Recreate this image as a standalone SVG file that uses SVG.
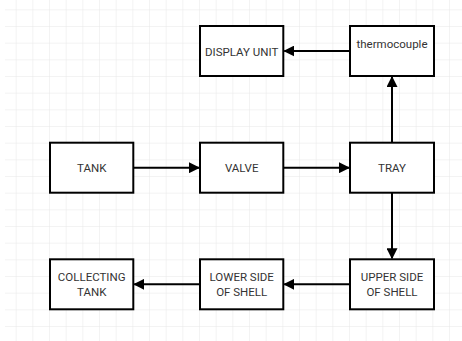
<svg xmlns="http://www.w3.org/2000/svg" width="462" height="341" viewBox="0 0 462 341">
<defs>
<pattern id="grid" x="0" y="9.333" width="16.667" height="16.667" patternUnits="userSpaceOnUse">
<path d="M16.667 0V16.667M0 0H16.667" fill="none" stroke="#e8e8e8" stroke-width="1"/>
</pattern>
<marker id="arr" markerWidth="11" markerHeight="11" refX="10" refY="5.5" orient="auto" markerUnits="userSpaceOnUse">
<path d="M0 0L11 5.5L0 11Z" fill="#000"/>
</marker>
<style>
.box{fill:#fff;stroke:#000;stroke-width:2}
.lbl{font-family:Roboto,"Liberation Sans",sans-serif;font-size:11.5px;fill:#333;text-anchor:middle}
.edge{fill:none;stroke:#000;stroke-width:2;marker-end:url(#arr)}
</style>
</defs>
<rect width="462" height="341" fill="#fff"/>
<rect x="5" y="0" width="457" height="341" fill="url(#grid)"/>
<g id="connectors">
<path class="edge" d="M133.3 167.7H199"/>
<path class="edge" d="M283.3 167.7H349"/>
<path class="edge" d="M392 142.7V77"/>
<path class="edge" d="M350 51H284.3"/>
<path class="edge" d="M392 192.7V258.3"/>
<path class="edge" d="M350 284.3H284.3"/>
<path class="edge" d="M200 284.3H134.3"/>
</g>
<g id="display-unit"><rect class="box" x="200" y="26" width="83.3" height="50"/><text class="lbl" x="241.7" y="55.5">DISPLAY UNIT</text></g>
<g id="thermocouple"><rect class="box" x="350" y="26" width="84" height="50"/><text class="lbl" x="392" y="47.5">thermocouple</text></g>
<g id="tank"><rect class="box" x="50" y="142.7" width="83.3" height="50"/><text class="lbl" x="91.7" y="171.5">TANK</text></g>
<g id="valve"><rect class="box" x="200" y="142.7" width="83.3" height="50"/><text class="lbl" x="241.7" y="171.5">VALVE</text></g>
<g id="tray"><rect class="box" x="350" y="142.7" width="84" height="50"/><text class="lbl" x="392" y="171.5">TRAY</text></g>
<g id="collecting-tank"><rect class="box" x="50" y="259.3" width="83.3" height="50"/><text class="lbl" x="91.7" y="280.5">COLLECTING</text><text class="lbl" x="91.7" y="296">TANK</text></g>
<g id="lower-side"><rect class="box" x="200" y="259.3" width="83.3" height="50"/><text class="lbl" x="241.7" y="280.5">LOWER SIDE</text><text class="lbl" x="241.7" y="296">OF SHELL</text></g>
<g id="upper-side"><rect class="box" x="350" y="259.3" width="84" height="50"/><text class="lbl" x="392" y="280.5">UPPER SIDE</text><text class="lbl" x="392" y="296">OF SHELL</text></g>
</svg>
